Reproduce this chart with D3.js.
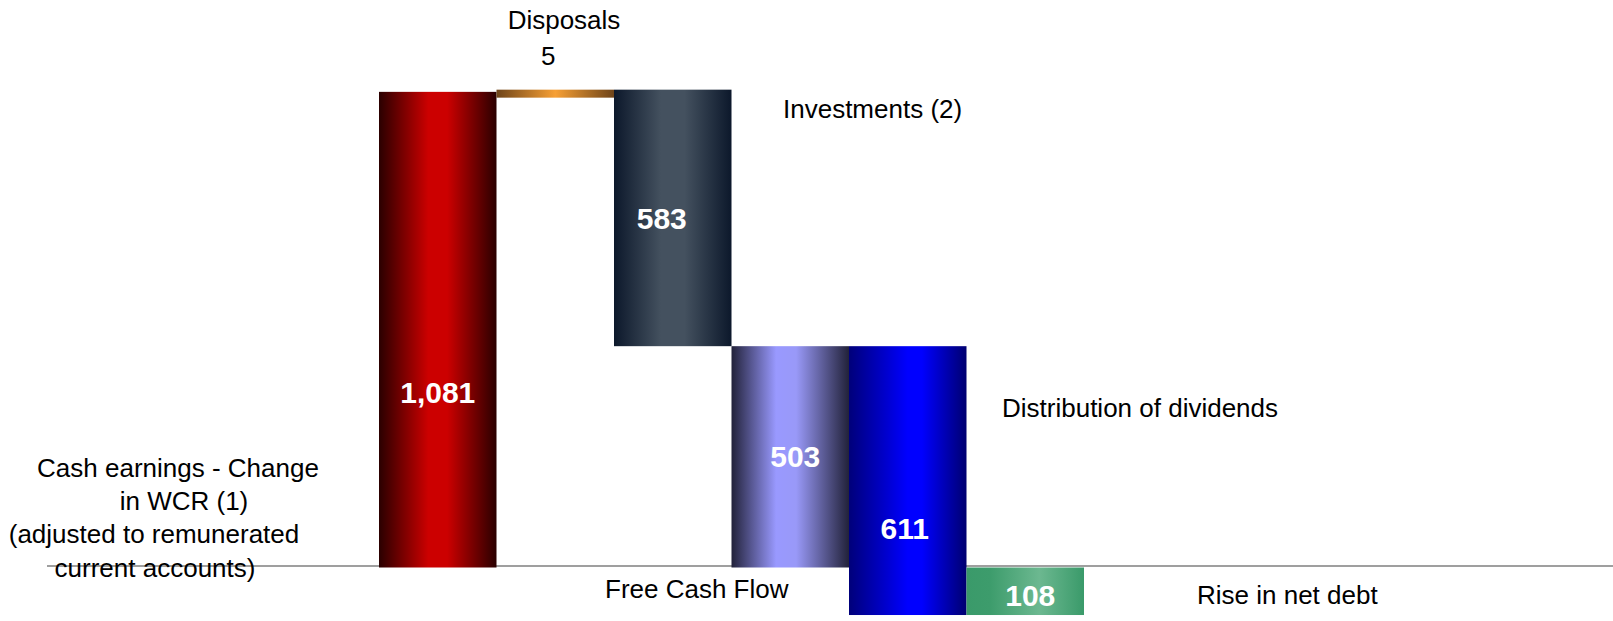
<!DOCTYPE html>
<html>
<head>
<meta charset="utf-8">
<script src="https://cdn.jsdelivr.net/npm/d3@7"></script>
<style>
  body { margin: 0; background: #fff; }
  svg { display: block; }
  text { font-family: "Liberation Sans", Arial, sans-serif; }
</style>
</head>
<body>
<svg width="1613" height="621"></svg>
<script>
// waterfall: cash flow bridge
var categories = ['cash', 'disposals', 'investments', 'fcf', 'dividends', 'netdebt']
var labelLines = [
  ['Cash earnings - Change', 'in WCR (1)', '(adjusted to remunerated', 'current accounts)'],
  ['Disposals'],
  ['Investments (2)'],
  ['Free Cash Flow'],
  ['Distribution of dividends'],
  ['Rise in net debt']
]
var values = [1081, 5, -583, 503, -611, 108]
var kinds = ['delta', 'delta', 'delta', 'total', 'delta', 'close']

var fmt = d3.format(',')

// running totals -> bar extents
var run = 0
var bars = values.map(function (v, i) {
  var lo, hi
  if (kinds[i] === 'total') {
    lo = 0; hi = run
  } else if (kinds[i] === 'close') {
    lo = run; hi = run + v
  } else {
    lo = Math.min(run, run + v); hi = Math.max(run, run + v)
    run += v
  }
  return { key: categories[i], value: v, lo: lo, hi: hi, i: i }
})

var svg = d3.select('svg')

var x = d3.scaleBand().domain(categories).range([379, 1084]).padding(0)
var y = d3.scaleLinear().domain([0, 1000]).range([567.5, 127.5])

// gradients, dark at the edges and light in the middle
var grads = [
  [['0%', '#2a0000'], ['42%', '#cc0000'], ['58%', '#cc0000'], ['100%', '#2a0000']],
  [['0%', '#6e4419'], ['50%', '#f7a035'], ['100%', '#6e4419']],
  [['0%', '#0c182b'], ['40%', '#44515f'], ['60%', '#44515f'], ['100%', '#0c182b']],
  [['0%', '#22223a'], ['38%', '#9999ff'], ['55%', '#9999f8'], ['100%', '#22223a']],
  [['0%', '#00007a'], ['50%', '#0000ff'], ['62%', '#0000ff'], ['100%', '#000070']],
  [['0%', '#3a9a6a'], ['20%', '#3d9c6c'], ['62%', '#6cb890'], ['100%', '#3a9a6a']]
]
var defs = svg.append('defs')
grads.forEach(function (stops, i) {
  var g = defs.append('linearGradient')
      .attr('id', 'g' + i)
      .attr('x1', '0%').attr('x2', '100%').attr('y1', '0%').attr('y2', '0%')
  stops.forEach(function (s) {
    g.append('stop').attr('offset', s[0]).attr('stop-color', s[1])
  })
})

// baseline
svg.append('line')
    .attr('x1', 47).attr('x2', 1613)
    .attr('y1', 566).attr('y2', 566)
    .attr('stroke', '#7f7f7f')
    .attr('stroke-width', 1.5)

svg.selectAll('rect.bar')
    .data(bars)
    .enter()
    .append('rect')
    .attr('class', 'bar')
    .attr('x', function (d) { return x(d.key) })
    .attr('width', x.bandwidth())
    .attr('y', function (d) { return y(d.hi) })
    .attr('height', function (d) { return Math.max(y(d.lo) - y(d.hi), 8) })
    .style('fill', function (d) { return 'url(#g' + d.i + ')' })

// value labels inside bars (small one goes above)
var nudge = [[0, 62], [0, 0], [-11, 0], [5, -1], [-3, 47], [5, 4]]
svg.selectAll('text.val')
    .data(bars.filter(function (d) { return d.i !== 1 }))
    .enter()
    .append('text')
    .attr('class', 'val')
    .attr('x', function (d) { return x(d.key) + x.bandwidth() / 2 + nudge[d.i][0] })
    .attr('y', function (d) { return (y(d.lo) + y(d.hi)) / 2 + 11 + nudge[d.i][1] })
    .attr('text-anchor', 'middle')
    .attr('fill', '#fff')
    .attr('font-weight', 'bold')
    .attr('font-size', 30)
    .text(function (d) { return fmt(Math.abs(d.value)) })

svg.append('text')
    .attr('x', x('disposals') + x.bandwidth() / 2 - 7)
    .attr('y', 65)
    .attr('text-anchor', 'middle')
    .attr('font-size', 26)
    .text(fmt(values[1]))

// category labels, placed by hand like the slide
var labelPos = [
  [[178, 477], [184, 510], [154, 543], [155, 577]],
  [[564, 29]],
  [[783, 118]],
  [[605, 598]],
  [[1002, 417]],
  [[1197, 604]]
]
labelLines.forEach(function (lines, i) {
  lines.forEach(function (t, j) {
    svg.append('text')
        .attr('x', labelPos[i][j][0])
        .attr('y', labelPos[i][j][1])
        .attr('text-anchor', (i <= 1) ? 'middle' : 'start')
        .attr('font-size', 26)
        .attr('fill', '#000')
        .text(t)
  })
})
</script>
</body>
</html>
